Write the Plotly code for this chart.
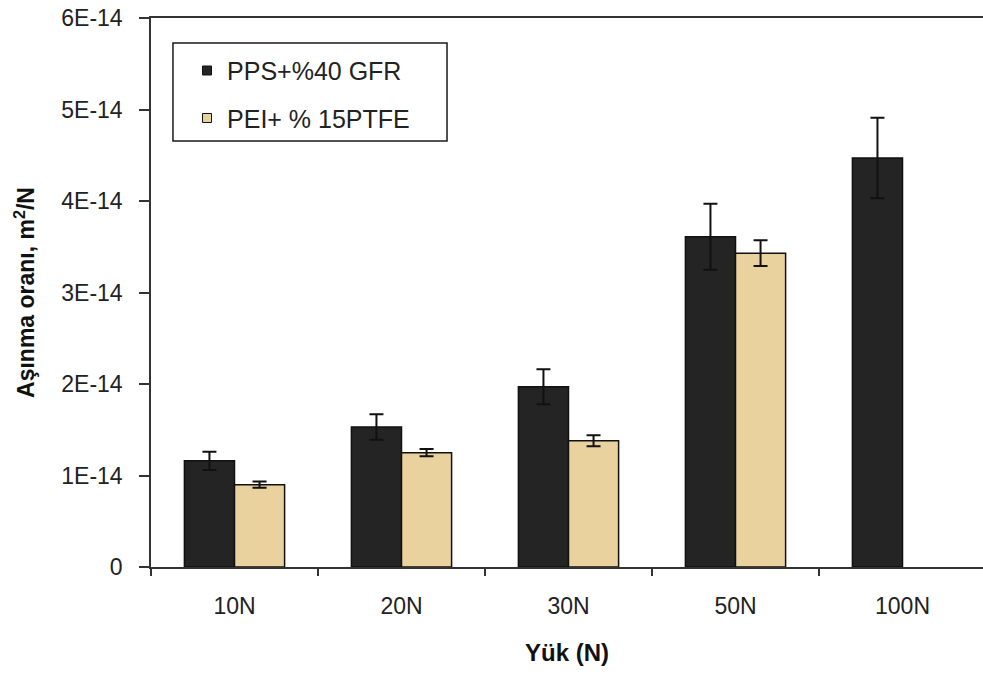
import plotly.graph_objects as go

# Load levels and wear rates (m^2/N) with standard deviations
loads = ["10N", "20N", "30N", "50N", "100N"]
pps_gfr = [1.16e-14, 1.53e-14, 1.97e-14, 3.61e-14, 4.47e-14]
pps_gfr_err = [0.10e-14, 0.14e-14, 0.19e-14, 0.36e-14, 0.44e-14]
pei_ptfe = [0.90e-14, 1.25e-14, 1.38e-14, 3.43e-14, None]
pei_ptfe_err = [0.035e-14, 0.04e-14, 0.06e-14, 0.14e-14, None]

series_names = ["PPS+%40 GFR", "PEI+ % 15PTFE"]
series_colors = ["#242424", "#E9D29E"]

y_ticks = [0, 1e-14, 2e-14, 3e-14, 4e-14, 5e-14, 6e-14]
y_tick_text = ["0", "1E-14", "2E-14", "3E-14", "4E-14", "5E-14", "6E-14"]

FONT = "Liberation Sans, Arial, sans-serif"
INK = "#1a1a1a"

fig = go.Figure()
for vals, errs, name, color in zip([pps_gfr, pei_ptfe], [pps_gfr_err, pei_ptfe_err],
                                   series_names, series_colors):
    fig.add_trace(go.Bar(
        x=loads, y=vals, name=name, legendgroup=name, showlegend=False,
        marker=dict(color=color, line=dict(color="#111111", width=1.5)),
        error_y=dict(type="data", array=errs, visible=True,
                     color="#111111", thickness=2, width=7),
    ))

# small square keys for the legend
for name, color in zip(series_names, series_colors):
    fig.add_trace(go.Scatter(
        x=[None], y=[None], mode="markers", name=name, legendgroup=name,
        marker=dict(symbol="square", size=9, color=color,
                    line=dict(color="#111111", width=1)),
    ))

# framed box behind the legend entries
fig.add_shape(
    type="rect", xref="paper", yref="paper",
    x0=0.0264, x1=0.3558, y0=0.776, y1=0.9545,
    line=dict(color=INK, width=1.5), fillcolor="white", layer="above",
)

fig.update_layout(
    width=983, height=675,
    margin=dict(l=151, r=0, t=18, b=108),
    paper_bgcolor="white", plot_bgcolor="white",
    barmode="group", bargap=0.4, bargroupgap=0,
    font=dict(family=FONT, size=23, color="#222222"),
    showlegend=True,
    legend=dict(
        x=0.0433, y=0.9458, xanchor="left", yanchor="top",
        bgcolor="rgba(0,0,0,0)", borderwidth=0,
        font=dict(family=FONT, size=25, color="#222222"),
        tracegroupgap=12, itemwidth=30, itemsizing="trace",
    ),
)

fig.update_xaxes(
    type="category", range=[-0.5, 4.482],
    showline=True, linecolor="#333333", linewidth=1.5, mirror=True,
    ticks="outside", ticklen=7, tickcolor="#333333", tickwidth=1.5,
    tickson="boundaries", ticklabelstandoff=18,
    tickfont=dict(family=FONT, size=23, color="#222222"),
    showgrid=False, zeroline=False,
    title=dict(text="<b>Yük (N)</b>", font=dict(family=FONT, size=24, color="#111111"),
               standoff=26),
)
fig.update_yaxes(
    range=[0, 6e-14],
    tickvals=y_ticks, ticktext=y_tick_text,
    showline=True, linecolor="#333333", linewidth=1.5,
    ticks="outside", ticklen=10, tickcolor="#333333", tickwidth=1.5,
    ticklabelstandoff=12,
    tickfont=dict(family=FONT, size=23, color="#222222"),
    showgrid=False, zeroline=False,
    title=dict(text="<b>Aşınma oranı, m<sup>2</sup>/N</b>",
               font=dict(family=FONT, size=23, color="#111111"), standoff=20),
)

fig.write_html("out.html")
